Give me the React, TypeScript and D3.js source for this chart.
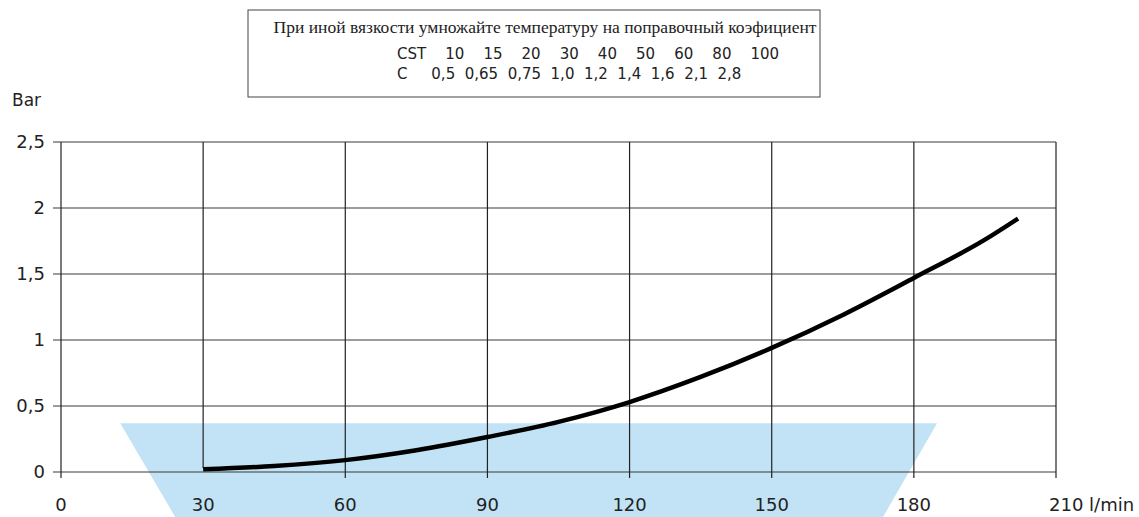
import * as d3 from "d3";

const xTicks = [0, 30, 60, 90, 120, 150, 180, 210];
const yTicks = [0, 0.5, 1, 1.5, 2, 2.5];
const yTickLabels = ["0", "0,5", "1", "1,5", "2", "2,5"];

// pressure drop curve (l/min -> bar)
const flow = [30, 45, 60, 75, 90, 105, 120, 135, 150, 165, 180, 195, 202];
const pressure = [0.02, 0.045, 0.09, 0.165, 0.265, 0.38, 0.53, 0.72, 0.94, 1.19, 1.47, 1.76, 1.92];

// shaded working range (trapezoid)
const zoneX = [12.5, 184.9, 173.5, 24.1];
const zoneY = [0.37, 0.37, -0.34, -0.34];

const cstRow = ["CST", "10", "15", "20", "30", "40", "50", "60", "80", "100"];
const cRow = ["C", "0,5", "0,65", "0,75", "1,0", "1,2", "1,4", "1,6", "2,1", "2,8"];

const sans = "'DejaVu Sans', sans-serif";

export default function App() {
  const W = 1139;
  const H = 517;
  const x = d3.scaleLinear().domain([0, 210]).range([61, 1056]);
  const y = d3.scaleLinear().domain([0, 2.5]).range([472, 142]);

  const curve = d3
    .line<number>()
    .x((d) => x(d))
    .y((_, i) => y(pressure[i]))
    .curve(d3.curveMonotoneX)(flow);

  const zone = zoneX.map((v, i) => `${x(v)},${y(zoneY[i])}`).join(" ");

  return (
    <svg width={W} height={H} style={{ position: "absolute", left: 0, top: 0 }}>
      <rect width={W} height={H} fill="#fff" />
      <polygon points={zone} fill="#c2e3f5" />

      {/* horizontal grid */}
      {yTicks.map((t) => (
        <line key={"h" + t} x1={53} x2={x(210)} y1={y(t)} y2={y(t)} stroke="#3a3a3a" strokeWidth={1.2} />
      ))}
      {/* vertical grid */}
      {xTicks.map((t) => (
        <line
          key={"v" + t}
          x1={x(t)}
          x2={x(t)}
          y1={y(2.5)}
          y2={t === 30 ? y(0.03) : y(0) + 6}
          stroke="#222"
          strokeWidth={1.2}
        />
      ))}

      <path d={curve ?? ""} fill="none" stroke="#000" strokeWidth={4.5} />

      {yTicks.map((t, i) => (
        <text key={"yl" + t} x={45} y={y(t) + 6} textAnchor="end" fontFamily={sans} fontSize={18} fill="#222">
          {yTickLabels[i]}
        </text>
      ))}
      {xTicks.map((t) => (
        <text
          key={"xl" + t}
          x={t === 210 ? x(t) - 7 : x(t)}
          y={511}
          textAnchor={t === 210 ? "start" : "middle"}
          fontFamily={sans}
          fontSize={18}
          fill="#222"
        >
          {t === 210 ? "210 l/min" : t}
        </text>
      ))}
      <text x={12} y={106} fontFamily={sans} fontSize={17} fill="#222">
        Bar
      </text>

      <rect x={248} y={10} width={572} height={87} fill="none" stroke="#444" strokeWidth={1} />
      <text x={545} y={33} textAnchor="middle" fontFamily="'Liberation Serif', serif" fontSize={17.5} fill="#222">
        При иной вязкости умножайте температуру на поправочный коэфициент
      </text>
      <text x={397} y={59} fontFamily={sans} fontSize={15} fill="#222" style={{ whiteSpace: "pre" }}>
        {cstRow[0] + "    " + cstRow.slice(1).join("    ")}
      </text>
      <text x={397} y={79} fontFamily={sans} fontSize={15} fill="#222" style={{ whiteSpace: "pre" }}>
        {cRow[0] + "     " + cRow.slice(1).join("  ")}
      </text>
    </svg>
  );
}
